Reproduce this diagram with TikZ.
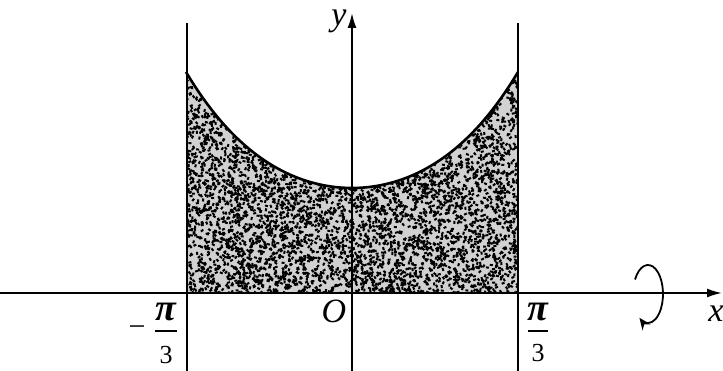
\documentclass[tikz,border=0pt]{standalone}
\usepackage{fontspec}
\setmainfont{Liberation Serif}
\usetikzlibrary{arrows.meta}
\begin{document}
\begin{tikzpicture}[x=1pt,y=-1pt,
  axisline/.style={line width=1.8pt},
  guide/.style={line width=1.4pt},
  curveline/.style={line width=2.6pt},
  lbl/.style={inner sep=0pt,font=\fontsize{34}{38}\selectfont\itshape},
  fracnum/.style={inner sep=0pt,font=\fontsize{38}{42}\selectfont\itshape\bfseries},
  fracden/.style={inner sep=0pt,font=\fontsize{26}{30}\selectfont},
  minussign/.style={inner sep=0pt,font=\fontsize{30}{34}\selectfont}]
\useasboundingbox (0,0) rectangle (723,371);
% shaded region
\def\region{(187,293) -- plot[domain=-1:1,samples=81] ({352+166*\x},{188-116*(0.8*\x*\x+0.2*\x*\x*\x*\x)}) -- (518,293) -- cycle}
\fill[black!18] \region;
\begin{scope}
\clip \region;
\pgfmathsetseed{7}
\foreach \i in {1,...,6000}{
  \pgfmathsetmacro{\px}{187+331*rnd}
  \pgfmathsetmacro{\py}{70+223*rnd}
  \pgfmathsetmacro{\pa}{180*rnd}
  \fill[black,rotate around={\pa:(\px,\py)}] (\px-1.5,\py-1) rectangle (\px+1.5,\py+1);
}
\end{scope}
\draw[curveline] plot[domain=-1:1,samples=81] ({352+166*\x},{188-116*(0.8*\x*\x+0.2*\x*\x*\x*\x)});
% guide lines
\coordinate (lt) at (187,23); \coordinate (lb) at (187,371);
\coordinate (rt) at (518,23); \coordinate (rb) at (518,371);
\draw[guide] (lt) -- (lb);
\draw[guide] (rt) -- (rb);
% axes
\coordinate (xs) at (0,293); \coordinate (xe) at (722,293);
\coordinate (ys) at (352,371); \coordinate (ye) at (352,13);
\draw[axisline,-{Latex[length=15pt,width=9pt]}] (xs) -- (xe);
\draw[axisline,-{Latex[length=15pt,width=9pt]}] (ys) -- (ye);
% rotation symbol
\draw[line width=1.8pt,-{Stealth[length=12pt,width=10pt]}] (648,294) ++(-150:15 and 29) arc[start angle=-150,end angle=125,x radius=15,y radius=29];
% labels
\node[lbl,anchor=base] (ylab) at (339,26) {y};
\node[lbl] (xlab) at (716,314) {x};
\node[lbl] (olab) at (334,311) {O};
% left fraction
\node[fracnum] (lpi) at (166,312) {π};
\node[fracden] (lthree) at (166,355) {3};
\coordinate (lbar1) at (155,331); \coordinate (lbar2) at (177,331);
\draw[line width=1.4pt] (lbar1) -- (lbar2);
\node[minussign] (lminus) at (137,331) {−};
% right fraction
\node[fracnum] (rpi) at (538,312) {π};
\node[fracden] (rthree) at (538,353) {3};
\coordinate (rbar1) at (528,331); \coordinate (rbar2) at (548,331);
\draw[line width=1.4pt] (rbar1) -- (rbar2);
\end{tikzpicture}
\end{document}
